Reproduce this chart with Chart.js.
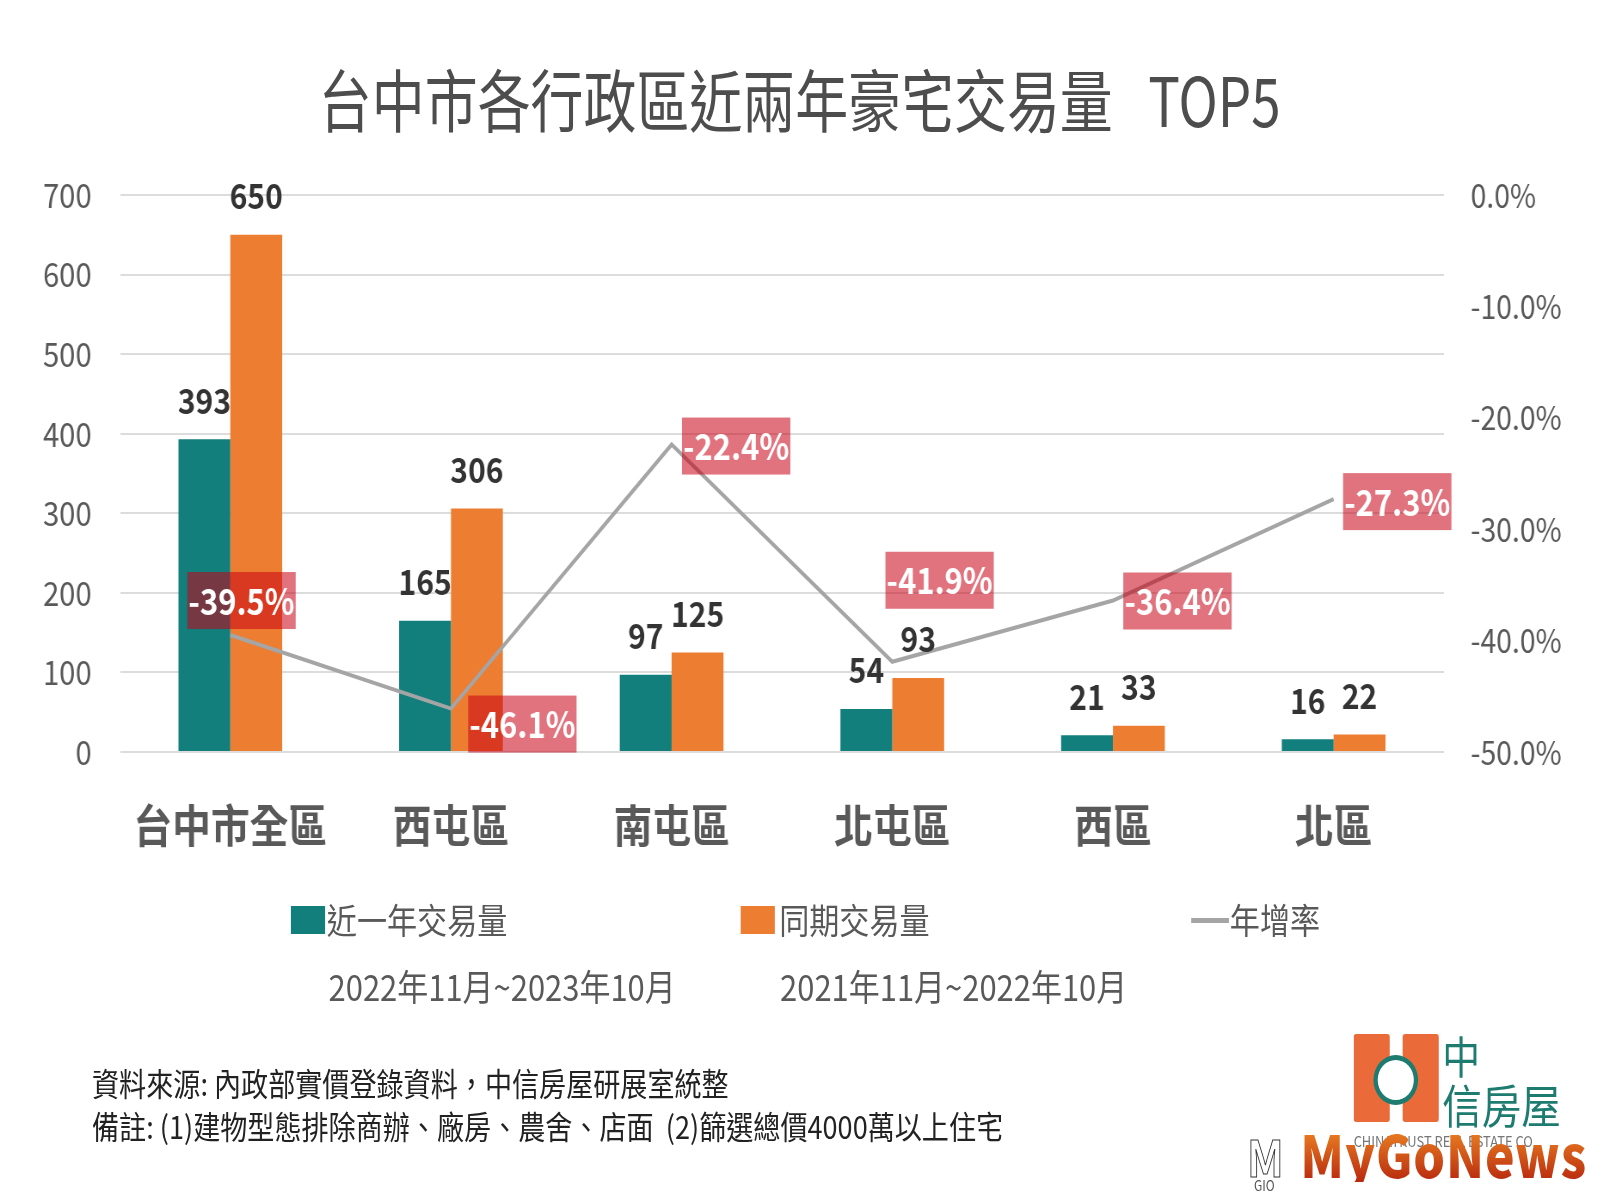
<!DOCTYPE html>
<html>
<head>
<meta charset="utf-8">
<script src="https://cdn.jsdelivr.net/npm/chart.js@4"></script>
<style>
  body { margin: 0; background: #fff; width: 1600px; height: 1200px; overflow: hidden; }
  /* the reference is horizontally condensed, so lay out wide and squeeze */
  #stage { position: absolute; left: 0; top: 0; width: 1860px; height: 1200px;
           transform: scaleX(0.86); transform-origin: 0 0;
           font-family: 'Noto Sans CJK TC', sans-serif; line-height: 1; }
  #c { position: absolute; left: 0; top: 0; }
  .t { position: absolute; white-space: nowrap; }
  #title { left: 0; width: 1860px; top: 64px; text-align: center; font-size: 68px; color: #4d4d4d;
           transform: scaleX(0.905); transform-origin: 50% 0; }
  .lg { font-size: 35px; color: #595959; }
  .sub { font-size: 36px; color: #595959; top: 967px; }
  .sw { position: absolute; top: 906px; width: 40px; height: 28px; }
  .foot { font-size: 31.5px; color: #222; left: 107px; }
  #logoTxt1, #logoTxt2 { color: #1d7b6f; }
  #mgn { font-size: 58px; font-weight: 900; letter-spacing: 1px;
         background: linear-gradient(#f08a24, #b8290f); -webkit-background-clip: text;
         background-clip: text; color: transparent; }
</style>
</head>
<body>
<div id="stage">
  <canvas id="c" width="1860" height="1200"></canvas>
  <div id="title" class="t">台中市各行政區近兩年豪宅交易量&nbsp;&nbsp;&nbsp;TOP5</div>

  <div class="sw" style="left:338px;background:#127f7c"></div>
  <div class="t lg" style="left:380px;top:901px">近一年交易量</div>
  <div class="sw" style="left:861px;background:#ed7d31"></div>
  <div class="t lg" style="left:906px;top:901px">同期交易量</div>
  <div style="position:absolute;left:1385px;top:918px;width:44px;height:5px;background:#a5a5a5"></div>
  <div class="t lg" style="left:1430px;top:901px">年增率</div>

  <div class="t sub" style="left:382px">2022年11月~2023年10月</div>
  <div class="t sub" style="left:907px">2021年11月~2022年10月</div>

  <div class="t foot" style="top:1067px">資料來源: 內政部實價登錄資料，中信房屋研展室統整</div>
  <div class="t foot" style="top:1110px">備註: (1)建物型態排除商辦、廠房、農舍、店面&nbsp;&nbsp;(2)篩選總價4000萬以上住宅</div>

  <!-- logo -->
  <div style="position:absolute;left:1574px;top:1034px;width:42px;height:88px;background:#ea6a3a;border-radius:3px"></div>
  <div style="position:absolute;left:1631px;top:1034px;width:42px;height:88px;background:#ea6a3a;border-radius:3px"></div>
  <div style="position:absolute;left:1600px;top:1060px;width:50px;height:38px;background:#ea6a3a"></div>
  <div style="position:absolute;left:1597px;top:1055px;width:52px;height:50px;border-radius:50%;background:#fff;border:5px solid #1d7b6f;box-sizing:border-box"></div>
  <div id="logoTxt1" class="t" style="left:1677px;top:1033px;font-size:44px">中</div>
  <div id="logoTxt2" class="t" style="left:1677px;top:1080px;font-size:46px">信房屋</div>
  <div class="t" style="left:1574px;top:1133px;font-size:15px;color:#777">CHINATRUST REAL ESTATE CO.</div>
  <div class="t" style="left:1450px;top:1130px;font-size:50px;font-weight:bold;-webkit-text-stroke:1px #333;color:#fff">M</div>
  <div class="t" style="left:1458px;top:1178px;font-size:14px;color:#555">GIO</div>
  <div id="mgn" class="t" style="left:1512px;top:1124px">MyGoNews</div>
</div>

<script>
/* ── DATA ───────────────────────────────────── */
const categories   = ['台中市全區', '西屯區', '南屯區', '北屯區', '西區', '北區'];
const recentVolume = [393, 165, 97, 54, 21, 16];     // 近一年交易量
const priorVolume  = [650, 306, 125, 93, 33, 22];    // 同期交易量
const yoyRate      = [-39.5, -46.1, -22.4, -41.9, -36.4, -27.3]; // 年增率 %
const leftTicks    = { min: 0, max: 700, step: 100 };
const rightTicks   = { min: -50, max: 0, step: 10 };

// where each rate box sits relative to its line point (dx, dy)
const rateBoxOffsets = [[13, -35], [83, 15], [75, 1], [55, -82], [75, 0], [74, 2]];

/* ── DEFAULTS ───────────────────────────────── */
const FONT = "'Noto Sans CJK TC', sans-serif";
Chart.defaults.font.family = FONT;
Chart.defaults.color = '#595959';

/* ── LABELS ─────────────────────────────────── */
const labelPlugin = {
    id: 'valueLabels',
    afterDatasetsDraw(chart) {
        const ctx = chart.ctx;
        ctx.save();
        ctx.textAlign = 'center';
        ctx.textBaseline = 'middle';
        ctx.font = 'bold 35px ' + FONT;
        ctx.fillStyle = '#333';
        [0, 1].forEach(di => {
            chart.getDatasetMeta(di).data.forEach((bar, i) => {
                ctx.fillText(String(chart.data.datasets[di].data[i]), bar.x, bar.y - 39);
            });
        });
        chart.getDatasetMeta(2).data.forEach((pt, i) => {
            const [dx, dy] = rateBoxOffsets[i];
            const cx = pt.x + dx, cy = pt.y + dy;
            ctx.fillStyle = 'rgba(200,0,20,0.55)';
            ctx.fillRect(cx - 63, cy - 28, 126, 57);
            ctx.fillStyle = '#fff';
            ctx.font = 'bold 36px ' + FONT;
            ctx.fillText(yoyRate[i].toFixed(1) + '%', cx, cy + 1);
        });
        ctx.restore();
    }
};

/* ── CHART ──────────────────────────────────── */
new Chart(document.getElementById('c'), {
    type: 'bar',
    data: {
        labels: categories,
        datasets: [
            { label: '近一年交易量', data: recentVolume, backgroundColor: '#127f7c',
              yAxisID: 'y', categoryPercentage: 0.47, barPercentage: 1, order: 2 },
            { label: '同期交易量', data: priorVolume, backgroundColor: '#ed7d31',
              yAxisID: 'y', categoryPercentage: 0.47, barPercentage: 1, order: 2 },
            { type: 'line', label: '年增率', data: yoyRate, yAxisID: 'y1',
              borderColor: '#a5a5a5', borderWidth: 4, pointRadius: 0, tension: 0, order: 1 }
        ]
    },
    options: {
        responsive: false, animation: false, devicePixelRatio: 1,
        layout: { padding: { top: 195, bottom: 318, left: 0, right: 0 } },
        plugins: { legend: { display: false }, tooltip: { enabled: false } },
        scales: {
            x: {
                grid: { display: false }, border: { display: false },
                ticks: { color: '#595959', padding: 39, font: { size: 45, weight: 'bold' } },
                afterFit: s => { s.height = 130; }
            },
            y: {
                position: 'left', min: leftTicks.min, max: leftTicks.max,
                grid: { color: '#dcdcdc', lineWidth: 2, drawTicks: false }, border: { display: false },
                ticks: { stepSize: leftTicks.step, padding: 33, color: '#595959', font: { size: 34 } },
                afterFit: s => { s.width = 139.5; }
            },
            y1: {
                position: 'right', min: rightTicks.min, max: rightTicks.max,
                grid: { display: false, drawTicks: false }, border: { display: false },
                ticks: { stepSize: rightTicks.step, padding: 31, color: '#595959', font: { size: 33 },
                         callback: v => v.toFixed(1) + '%' },
                afterFit: s => { s.width = 181; }
            }
        }
    },
    plugins: [labelPlugin]
});
</script>
</body>
</html>
